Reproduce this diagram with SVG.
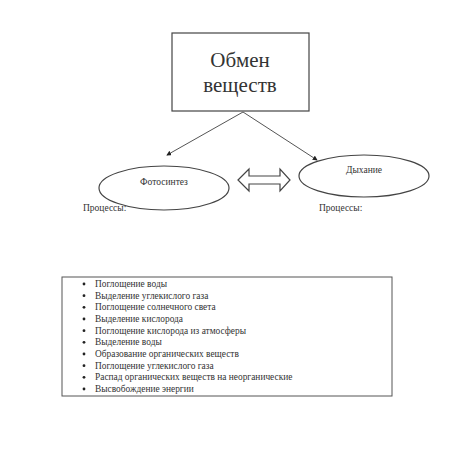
<svg xmlns="http://www.w3.org/2000/svg" width="468" height="451" viewBox="0 0 468 451">
<defs>
<style>
.t{font-family:"Liberation Serif","Times New Roman",serif;fill:#333}
.ln{stroke:#555;stroke-width:1;fill:none}
.shape{stroke:#444;stroke-width:1.2;fill:#fff}
</style>
<marker id="ah" viewBox="0 0 6 6" refX="5" refY="3" markerWidth="5" markerHeight="5" orient="auto">
<path d="M0,0 L6,3 L0,6 z" fill="#222"/>
</marker>
</defs>
<rect width="468" height="451" fill="#fff"/>
<g id="obmen">
<rect class="shape" x="172" y="33" width="137" height="78"/>
<text class="t" x="240" y="67" font-size="21" text-anchor="middle">Обмен</text>
<text class="t" x="240" y="92" font-size="21" text-anchor="middle">веществ</text>
</g>
<g id="connectors">
<line class="ln" x1="243" y1="112" x2="167" y2="155" marker-end="url(#ah)"/>
<line class="ln" x1="243" y1="112" x2="317" y2="160" marker-end="url(#ah)"/>
<path class="shape" d="M238,180 L249,169 L249,176 L280,176 L280,169 L290,180 L280,191 L280,184 L249,184 L249,191 z" stroke-width="1"/>
</g>
<g id="fotosintez">
<ellipse class="shape" cx="164" cy="188" rx="65" ry="22"/>
<text class="t" x="164" y="185" font-size="9.5" text-anchor="middle">Фотосинтез</text>
</g>
<g id="dyhanie">
<ellipse class="shape" cx="364" cy="176" rx="65" ry="21"/>
<text class="t" x="364" y="173" font-size="9.5" text-anchor="middle">Дыхание</text>
</g>
<g id="processes-left">
<text class="t" x="83" y="211" font-size="9.5">Процессы:</text>
</g>
<g id="processes-right">
<text class="t" x="319" y="211" font-size="9.5">Процессы:</text>
</g>
<g id="list">
<rect x="62" y="277" width="330" height="119" fill="#fff" stroke="#555" stroke-width="1"/>
<g fill="#222">
<circle cx="84" cy="284" r="1.4"/>
<circle cx="84" cy="295.7" r="1.4"/>
<circle cx="84" cy="307.3" r="1.4"/>
<circle cx="84" cy="319" r="1.4"/>
<circle cx="84" cy="330.7" r="1.4"/>
<circle cx="84" cy="342.3" r="1.4"/>
<circle cx="84" cy="354" r="1.4"/>
<circle cx="84" cy="365.7" r="1.4"/>
<circle cx="84" cy="377.3" r="1.4"/>
<circle cx="84" cy="389" r="1.4"/>
</g>
<g class="t" font-size="9.4">
<text x="95" y="287">Поглощение воды</text>
<text x="95" y="298.7">Выделение углекислого газа</text>
<text x="95" y="310.3">Поглощение солнечного света</text>
<text x="95" y="322">Выделение кислорода</text>
<text x="95" y="333.7">Поглощение кислорода из атмосферы</text>
<text x="95" y="345.3">Выделение воды</text>
<text x="95" y="357">Образование органических веществ</text>
<text x="95" y="368.7">Поглощение углекислого газа</text>
<text x="95" y="380.3">Распад органических веществ на неорганические</text>
<text x="95" y="392">Высвобождение энергии</text>
</g>
</g>
</svg>
